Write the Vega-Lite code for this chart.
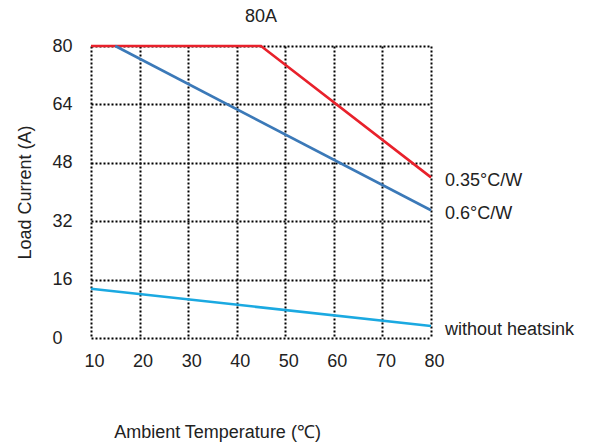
{
  "$schema": "https://vega.github.io/schema/vega-lite/v6.json",
  "width": 340,
  "height": 292,
  "autosize": {"type": "none"},
  "padding": {"left": 91, "top": 46, "right": 160, "bottom": 106},
  "background": "white",
  "config": {"view": {"stroke": null}, "font": "Liberation Sans"},
  "title": {"text": "80A", "fontSize": 18, "fontWeight": "normal", "color": "#222", "offset": 11, "anchor": "middle"},
  "data": {
    "values": [
      {"series": "0.35°C/W", "temp": 10, "current": 80},
      {"series": "0.35°C/W", "temp": 45, "current": 80},
      {"series": "0.35°C/W", "temp": 80, "current": 44},
      {"series": "0.6°C/W", "temp": 15, "current": 80},
      {"series": "0.6°C/W", "temp": 80, "current": 35},
      {"series": "without heatsink", "temp": 10, "current": 13.5},
      {"series": "without heatsink", "temp": 80, "current": 3.3}
    ]
  },
  "layer": [
    {
      "mark": {"type": "line", "strokeWidth": 2.6},
      "encoding": {
        "x": {
          "field": "temp", "type": "quantitative",
          "scale": {"domain": [10, 80], "nice": false},
          "axis": {
            "values": [10, 20, 30, 40, 50, 60, 70, 80],
            "grid": true, "gridColor": "#000", "gridDash": [2, 2], "gridWidth": 2, "gridOpacity": 1,
            "domain": false, "ticks": false,
            "labelFontSize": 18, "labelPadding": 14, "labelOffset": 3, "labelFlush": false, "labelColor": "#222",
            "title": "Ambient Temperature (℃)", "titleFontWeight": "normal", "titleFontSize": 18, "titleColor": "#222",
            "titleX": 126, "titleY": 94, "titleBaseline": "middle", "titleAlign": "center"
          }
        },
        "y": {
          "field": "current", "type": "quantitative",
          "scale": {"domain": [0, 80], "nice": false},
          "axis": {
            "values": [0, 16, 32, 48, 64, 80],
            "grid": true, "gridColor": "#000", "gridDash": [2, 2], "gridWidth": 2, "gridOpacity": 1,
            "domain": false, "ticks": false,
            "labelFontSize": 18, "labelPadding": 39, "labelAlign": "left", "labelBaseline": "middle", "labelFlush": false, "labelColor": "#222",
            "title": "Load Current (A)", "titleFontWeight": "normal", "titleFontSize": 18, "titleColor": "#222",
            "titleX": -66, "titleY": 146, "titleBaseline": "middle", "titleAlign": "center", "titleAngle": -90
          }
        },
        "color": {
          "field": "series", "type": "nominal",
          "scale": {"domain": ["0.35°C/W", "0.6°C/W", "without heatsink"], "range": ["#e8212b", "#3b79b8", "#1ba9e1"]},
          "legend": null
        },
        "order": {"field": "temp"}
      }
    },
    {
      "transform": [{"filter": "datum.temp == 80"}],
      "mark": {"type": "text", "align": "left", "baseline": "middle", "dx": 14, "dy": 4, "fontSize": 18, "color": "#222"},
      "encoding": {
        "x": {"field": "temp", "type": "quantitative"},
        "y": {"field": "current", "type": "quantitative"},
        "text": {"field": "series"}
      }
    }
  ]
}
